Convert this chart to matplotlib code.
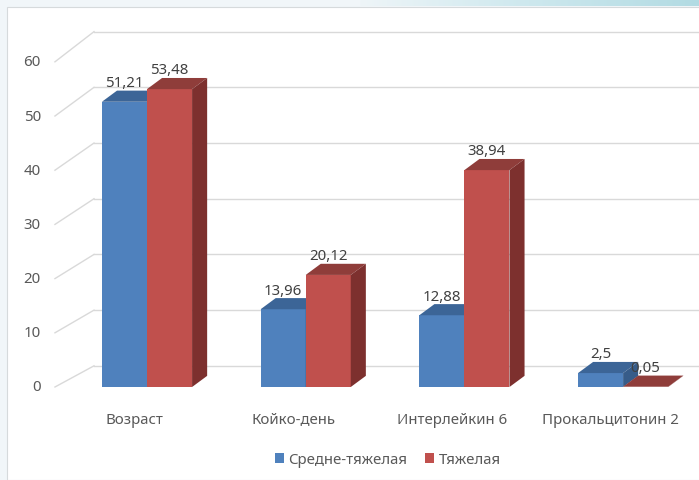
import matplotlib.pyplot as plt
import numpy as np
from matplotlib.patches import Polygon, Rectangle
from matplotlib.colors import LinearSegmentedColormap

categories = ['Возраст', 'Койко-день', 'Интерлейкин 6', 'Прокальцитонин 2']
moderate = [51.21, 13.96, 12.88, 2.5]
severe = [53.48, 20.12, 38.94, 0.05]
series_names = ['Средне-тяжелая', 'Тяжелая']
yticks = [0, 10, 20, 30, 40, 50, 60]

# цвета: фронт, верх, бок
blue = ('#4F81BD', '#3C6597', '#375C89')
red = ('#C0504D', '#8F3D3A', '#7D302E')

W = 0.284          # ширина столбца (в единицах категорий)
DX, DY = 0.095, 2.0  # глубина столбца
BACK_X, BACK_DY = -0.334, 3.8  # задняя стенка
FRONT_X, FRONT_K = -0.58, 0.973
GRID = '#D9D9D9'
TXT = '#595959'
FS = 10.8

plt.rcParams['font.family'] = ['Noto Sans', 'DejaVu Sans']

fig = plt.figure(figsize=(6.99, 4.81), dpi=100)
fig.patch.set_facecolor('#F1F6F9')
fig.add_artist(Rectangle((7 / 699, 0), 1, 1 - 8 / 481, transform=fig.transFigure,
                         facecolor='white', edgecolor='#D6DADC', lw=0.8, zorder=0))
# полоска сверху справа
gax = fig.add_axes([360 / 699, 1 - 7 / 481, 339 / 699, 7 / 481])
cmap = LinearSegmentedColormap.from_list('g', ['#EEF5F8', '#CDE8EE', '#B2DBE3'])
gax.imshow(np.linspace(0, 1, 200)[None, :], aspect='auto', cmap=cmap)
gax.axis('off')

ax = fig.add_axes([0, 0, 1, 1])
ax.set_xlim(-147 / 158.7, (699 - 147) / 158.7)
ax.set_ylim((388 - 481) / 5.57, 388 / 5.57)
ax.axis('off')
ax.patch.set_alpha(0)

xmax = ax.get_xlim()[1]
for v in yticks:
    ax.plot([FRONT_X, BACK_X], [v * FRONT_K, v + BACK_DY], color=GRID, lw=1, zorder=1)
    ax.plot([BACK_X, xmax], [v + BACK_DY, v + BACK_DY], color=GRID, lw=1, zorder=1)
    ax.text(-0.668, v * FRONT_K, str(v), ha='right', va='center', fontsize=FS, color=TXT)


def bar3d(x0, h, cols):
    front, top, side = cols
    ax.add_patch(Rectangle((x0, 0), W, h, facecolor=front, edgecolor='none', zorder=3))
    ax.add_patch(Polygon([(x0, h), (x0 + W, h), (x0 + W + DX, h + DY), (x0 + DX, h + DY)],
                         facecolor=top, edgecolor='none', zorder=3))
    ax.add_patch(Polygon([(x0 + W, 0), (x0 + W + DX, DY), (x0 + W + DX, h + DY), (x0 + W, h)],
                         facecolor=side, edgecolor='none', zorder=3))
    ax.text(x0 + W / 2, h + DY + 0.1, f'{h:g}'.replace('.', ','), ha='center', va='bottom',
            fontsize=FS, color='#404040', zorder=5)


for i, cat in enumerate(categories):
    bar3d(i - W, moderate[i], blue)
    bar3d(i, severe[i], red)
    ax.text(i - 0.08, -5.75, cat, ha='center', va='center', fontsize=FS, color=TXT)

handles = [Rectangle((0, 0), 1, 1, facecolor=blue[0]), Rectangle((0, 0), 1, 1, facecolor=red[0])]
fig.legend(handles, series_names, loc='center', bbox_to_anchor=(388 / 699, 1 - 461 / 481),
           ncol=2, frameon=False, handlelength=0.6, handleheight=0.6, handletextpad=0.3,
           columnspacing=1.2, fontsize=FS, labelcolor=TXT)

fig.savefig('out.png', dpi=100, facecolor=fig.get_facecolor())
